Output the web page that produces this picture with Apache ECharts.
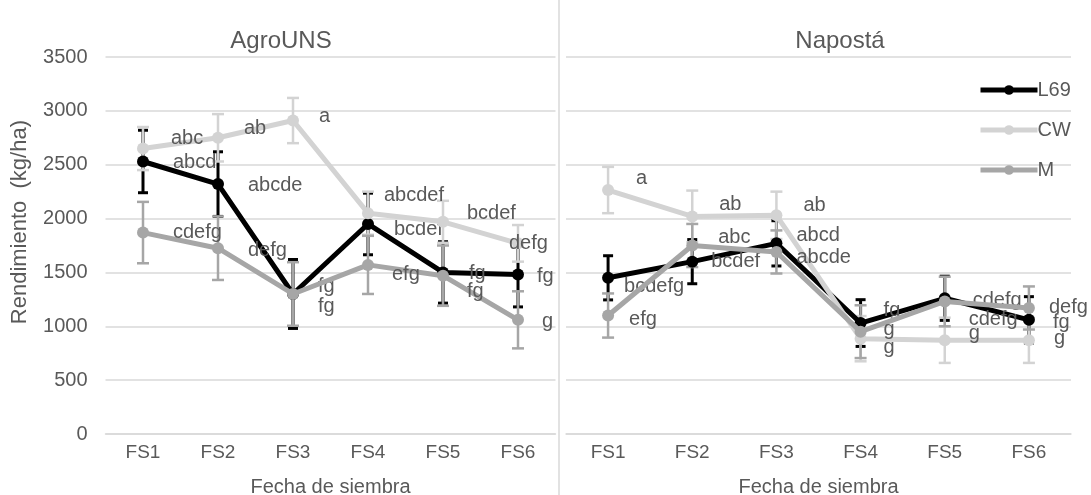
<!DOCTYPE html>
<html>
<head>
<meta charset="utf-8">
<script src="https://cdn.jsdelivr.net/npm/echarts@6/dist/echarts.min.js"></script>
<style>
  html, body { margin: 0; padding: 0; background: #ffffff; }
  #chart { width: 1091px; height: 495px; }
</style>
</head>
<body>
<div id="chart"></div>
<script>
// Sowing dates (x categories) and y ticks
const categories = ['FS1', 'FS2', 'FS3', 'FS4', 'FS5', 'FS6'];
const yTicks = { min: 0, max: 3500, interval: 500 };

// AgroUNS site: mean yield (kg/ha), error bar half-width, significance letters
const agroL69 = [2530, 2320, 1300, 1950, 1500, 1480];
const agroL69Err = [290, 300, 320, 286, 285, 300];
const agroL69Letters = ['abcd', 'abcde', 'fg', 'bcdef', 'fg', 'fg'];

const agroCW = [2650, 2750, 2910, 2050, 1970, 1770];
const agroCWErr = [200, 220, 210, 200, 195, 170];
const agroCWLetters = ['abc', 'ab', 'a', 'abcdef', 'bcdef', 'defg'];

const agroM = [1870, 1725, 1300, 1570, 1470, 1060];
const agroMErr = [285, 295, 295, 270, 280, 265];
const agroMLetters = ['cdefg', 'defg', 'fg', 'efg', 'fg', 'g'];

// Napostá site
const napL69 = [1450, 1600, 1770, 1030, 1260, 1060];
const napL69Err = [205, 205, 210, 217, 205, 215];
const napL69Letters = ['bcdefg', 'bcdef', 'abcd', 'fg', 'cdefg', 'fg'];

const napCW = [2265, 2020, 2030, 885, 870, 870];
const napCWErr = [215, 240, 220, 210, 210, 210];
const napCWLetters = ['a', 'ab', 'ab', 'g', 'g', 'g'];

const napM = [1100, 1750, 1690, 950, 1230, 1170];
const napMErr = [205, 200, 200, 245, 230, 200];
const napMLetters = ['efg', 'abc', 'abcde', 'g', 'cdefg', 'defg'];

// Letter label placement (pixel offsets from each point)
const labelOffsets = {
  agroL69: [[24, 1], [24, 1], [19, -7], [20, 6], [20, 1], [13, 2]],
  agroCW:  [[22, -10], [20, -9], [20, -4], [10, -18], [18, -8], [-15, 0]],
  agroM:   [[24, 0], [24, 2], [19, 13], [18, 10], [18, 16], [18, 2]],
  napL69:  [[10, 9], [13, 0], [14, -8], [17, -13], [22, 2], [18, 3]],
  napCW:   [[22, -12], [21, -12], [21, -10], [17, 9], [18, -7], [19, -2]],
  napM:    [[15, 4], [20, -8], [14, 6], [17, -2], [18, 18], [14, 0]]
};

const FONT = 'Liberation Sans, Arial, sans-serif';
const TEXT = '#595959';
const GRID = '#d9d9d9';
const COLORS = { L69: '#000000', CW: '#d3d3d3', M: '#a6a6a6' };

function lineSeries(name, gi, values, letters, offsets, z) {
  return {
    type: 'line',
    name: name,
    xAxisIndex: gi,
    yAxisIndex: gi,
    z: z,
    symbol: 'circle',
    symbolSize: 12,
    color: COLORS[name],
    lineStyle: { width: 5, color: COLORS[name] },
    itemStyle: { color: COLORS[name] },
    emphasis: { disabled: true },
    data: values.map((v, i) => ({ value: v, label: { offset: offsets[i] } })),
    label: {
      show: true,
      position: 'right',
      distance: 0,
      color: TEXT,
      fontSize: 20,
      fontFamily: FONT,
      formatter: p => letters[p.dataIndex]
    }
  };
}

function errorSeries(gi, values, errs, color, capW, lineW, z) {
  return {
    type: 'custom',
    xAxisIndex: gi,
    yAxisIndex: gi,
    z: z,
    silent: true,
    data: values.map((v, i) => [i, v - errs[i], v + errs[i]]),
    encode: { x: 0, y: [1, 2] },
    renderItem: function (params, api) {
      const i = api.value(0);
      const lo = api.coord([i, api.value(1)]);
      const hi = api.coord([i, api.value(2)]);
      const h = capW / 2;
      const st = { stroke: color, lineWidth: lineW };
      return {
        type: 'group',
        children: [
          { type: 'line', shape: { x1: lo[0], y1: lo[1], x2: hi[0], y2: hi[1] }, style: st },
          { type: 'line', shape: { x1: lo[0] - h, y1: lo[1], x2: lo[0] + h, y2: lo[1] }, style: st },
          { type: 'line', shape: { x1: hi[0] - h, y1: hi[1], x2: hi[0] + h, y2: hi[1] }, style: st }
        ]
      };
    }
  };
}

function xAxis(gi) {
  return {
    type: 'category',
    gridIndex: gi,
    data: categories,
    boundaryGap: true,
    axisLine: { show: true, lineStyle: { color: GRID, width: 1.5 } },
    axisTick: { show: false },
    axisLabel: { color: TEXT, fontSize: 19, fontFamily: FONT, margin: 9 },
    name: 'Fecha de siembra',
    nameLocation: 'middle',
    nameGap: 43,
    nameTextStyle: { color: TEXT, fontSize: 20, fontFamily: FONT }
  };
}

function yAxis(gi, showLabels) {
  return {
    type: 'value',
    gridIndex: gi,
    min: yTicks.min,
    max: yTicks.max,
    interval: yTicks.interval,
    axisLine: { show: false },
    axisTick: { show: false },
    axisLabel: {
      show: showLabels, color: TEXT, fontSize: 20, fontFamily: FONT, margin: 18,
      formatter: v => String(v)
    },
    splitLine: { show: true, lineStyle: { color: GRID, width: 1.5 } }
  };
}

const chart = echarts.init(document.getElementById('chart'), null, { renderer: 'canvas' });

chart.setOption({
  animation: false,
  backgroundColor: '#ffffff',
  textStyle: { fontFamily: FONT },
  title: [
    { text: 'AgroUNS', left: 276, top: 24, textAlign: 'center',
      textStyle: { color: TEXT, fontSize: 24, fontWeight: 'normal', fontFamily: FONT } },
    { text: 'Napostá', left: 835, top: 24, textAlign: 'center',
      textStyle: { color: TEXT, fontSize: 24, fontWeight: 'normal', fontFamily: FONT } }
  ],
  legend: {
    data: ['L69', 'CW', 'M'],
    orient: 'vertical',
    left: 973,
    top: 74,
    itemWidth: 57,
    itemHeight: 12,
    itemGap: 18,
    selectedMode: false,
    lineStyle: { width: 5 },
    textStyle: { color: TEXT, fontSize: 20, fontFamily: FONT, lineHeight: 22, padding: [0, 0, 0, -5] }
  },
  grid: [
    { left: 105.5, right: 535.5, top: 57, bottom: 61, containLabel: false, outerBoundsMode: 'none' },
    { left: 566, right: 20, top: 57, bottom: 61, containLabel: false, outerBoundsMode: 'none' }
  ],
  xAxis: [xAxis(0), xAxis(1)],
  yAxis: [yAxis(0, true), yAxis(1, false)],
  graphic: [
    { type: 'line', silent: true, z: 0,
      shape: { x1: 559, y1: 0, x2: 559, y2: 495 },
      style: { stroke: GRID, lineWidth: 1.5 } },
    { type: 'text', silent: true, left: 9, top: 120, rotation: Math.PI / 2,
      style: { text: 'Rendimiento  (kg/ha)', fill: TEXT, fontSize: 22, fontFamily: FONT } }
  ],
  series: [
    // error bars: L69 underneath, grey genotypes above
    errorSeries(0, agroL69, agroL69Err, COLORS.L69, 10, 3, 1),
    errorSeries(1, napL69, napL69Err, COLORS.L69, 10, 3, 1),
    errorSeries(0, agroCW, agroCWErr, COLORS.CW, 12, 2.5, 2),
    errorSeries(1, napCW, napCWErr, COLORS.CW, 12, 2.5, 2),
    errorSeries(0, agroM, agroMErr, COLORS.M, 12, 2.5, 2),
    errorSeries(1, napM, napMErr, COLORS.M, 12, 2.5, 2),
    // mean yield lines
    lineSeries('L69', 0, agroL69, agroL69Letters, labelOffsets.agroL69, 3),
    lineSeries('L69', 1, napL69, napL69Letters, labelOffsets.napL69, 3),
    lineSeries('CW', 0, agroCW, agroCWLetters, labelOffsets.agroCW, 4),
    lineSeries('CW', 1, napCW, napCWLetters, labelOffsets.napCW, 4),
    lineSeries('M', 0, agroM, agroMLetters, labelOffsets.agroM, 5),
    lineSeries('M', 1, napM, napMLetters, labelOffsets.napM, 5)
  ]
});
</script>
</body>
</html>
